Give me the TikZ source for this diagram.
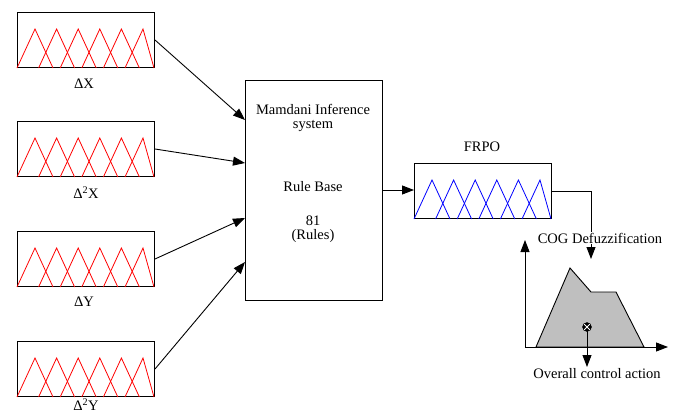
\documentclass[tikz,border=0pt]{standalone}
\usepackage{fontspec}
\setmainfont{Liberation Serif}
\usetikzlibrary{arrows.meta,positioning,calc}
\begin{document}
\begin{tikzpicture}[
  x=1pt, y=-1pt,
  every node/.style={font=\fontsize{14.5}{14}\selectfont},
  mfbox/.style={draw,line width=1pt,minimum width=137pt,minimum height=55pt,inner sep=0pt,anchor=north west},
  mf/.style={line width=0.8pt},
  arr/.style={-{Triangle[length=12pt,width=9pt]},line width=0.9pt}
]
  \useasboundingbox (0,0) rectangle (678,415);

  \node[mfbox] (dx)  at (17,12)  {};
  \node[mfbox] (ddx) at (17,121) {};
  \node[mfbox] (dy)  at (17,231) {};
  \node[mfbox] (ddy) at (17,341) {};
  \node[mfbox] (frpo) at (414,163) {};

  \foreach \b in {dx,ddx,dy,ddy}
    \foreach \c in {18,39.6,61.2,82.8,104.4,126}{
      \pgfmathsetmacro\r{min(\c+18,137)}
      \draw[red,mf] ($(\b.south west)+(\c-18,0)$) -- ($(\b.south west)+(\c,-39)$) -- ($(\b.south west)+(\r,0)$);
    }
  \foreach \c in {18,39.6,61.2,82.8,104.4,126}{
    \pgfmathsetmacro\r{min(\c+18,137)}
    \draw[blue,mf] ($(frpo.south west)+(\c-18,0)$) -- ($(frpo.south west)+(\c,-39)$) -- ($(frpo.south west)+(\r,0)$);
  }

  \node (ldx)  at (84,84)  {ΔX};
  \node (lddx) at (86,193) {Δ\textsuperscript{2}X};
  \node (ldy)  at (84,302) {ΔY};
  \node (lddy) at (86,405) {Δ\textsuperscript{2}Y};
  \node (lfrpo) at (482,147) {FRPO};

  \node[draw,line width=1pt,minimum width=137pt,minimum height=220pt,inner sep=0pt,anchor=north west] (mam) at (245,80) {};
  \node[align=center] (mtitle) at (313,118) {Mamdani Inference\\system};
  \node (rule) at (313,187) {Rule Base};
  \node[align=center] (nrule) at (313,229) {81\\(Rules)};

  \coordinate (m1) at (245,120);
  \coordinate (m2) at (245,163);
  \coordinate (m3) at (245,218);
  \coordinate (m4) at (245,262);
  \draw[arr] (dx.east) -- (m1);
  \draw[arr] (ddx.east) -- (m2);
  \draw[arr] (dy.east) -- (m3);
  \draw[arr] (ddy.east) -- (m4);

  \coordinate (mout) at (382,190);
  \coordinate (fin) at (414,190);
  \draw[arr] (mout) -- (fin);

  \coordinate (cogin) at (591,259);
  \draw[arr] (frpo.east) -| (cogin);
  \node[fill=white,inner sep=1pt] (cog) at (600,238) {COG Defuzzification};

  \coordinate (o) at (525,347);
  \coordinate (ytip) at (525,240);
  \coordinate (xtip) at (668,347);
  \draw[fill=gray!50,line width=0.9pt] (536,347) -- (570,268) -- (591,292) -- (616,292) -- (644,347) -- cycle;
  \draw[arr] (o) -- (ytip);
  \draw[arr] (o) -- (xtip);

  \coordinate (out) at (587,367);
  \draw[arr] (587,327) -- (out);
  \node[circle,draw,fill=black,minimum size=9pt,inner sep=0pt,
        path picture={\draw[white,line width=1pt] (path picture bounding box.south west) -- (path picture bounding box.north east)
                      (path picture bounding box.north west) -- (path picture bounding box.south east);}] (cen) at (587,327) {};
  \node (lout) at (597,374) {Overall control action};
\end{tikzpicture}
\end{document}
